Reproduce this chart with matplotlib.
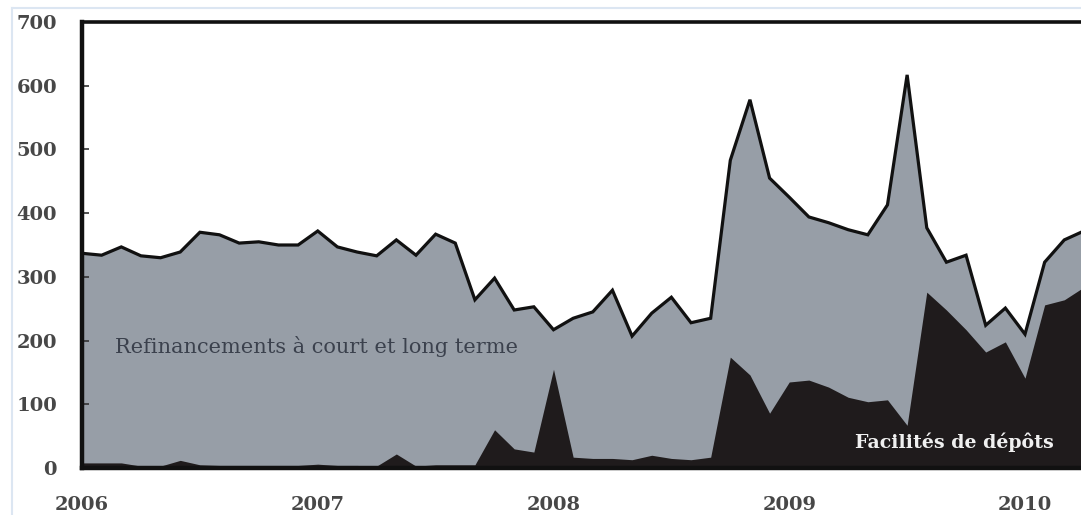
#!/usr/bin/env python
"""Refinancements vs facilites de depots, 2006-2010 (monthly, bn EUR)."""

import matplotlib

matplotlib.use("Agg")
import matplotlib.pyplot as plt  # noqa: E402
from matplotlib.lines import Line2D  # noqa: E402
import numpy as np  # noqa: E402

# monthly values, Jan 2006 .. Apr 2010
years = [2006, 2007, 2008, 2009, 2010]
refinancements = [
    337, 334, 347, 333, 330, 339, 370, 366, 353, 355, 350, 350,
    372, 347, 339, 333, 358, 334, 367, 353, 264, 298, 248, 253,
    217, 235, 245, 279, 207, 243, 268, 228, 235, 483, 578, 455,
    425, 394, 385, 374, 366, 413, 617, 377, 323, 334, 224, 251,
    210, 323, 358, 372,
]
depots = [
    8, 8, 8, 3, 3, 12, 5, 4, 4, 4, 4, 4,
    6, 4, 4, 3, 22, 3, 5, 5, 5, 60, 30, 25,
    155, 17, 15, 15, 13, 20, 15, 13, 17, 174, 146, 86,
    135, 138, 127, 111, 104, 107, 67, 276, 248, 217, 182, 198,
    141, 256, 264, 284,
]
yticks = [0, 100, 200, 300, 400, 500, 600, 700]

t = years[0] + np.arange(len(refinancements)) / 12.0

W, H = 1081, 515
fig = plt.figure(figsize=(W / 100, H / 100), dpi=100)
ax = fig.add_axes([82 / W, (H - 468) / H, 1 - 82 / W, (468 - 22) / H])

ax.fill_between(t, 0, refinancements, color="#979ea7", lw=0, zorder=1)
ax.plot(t, refinancements, color="#111111", lw=2.3, zorder=3, solid_joinstyle="miter")
ax.fill_between(t, 0, depots, color="#1f1b1c", lw=0, zorder=2)

ax.set_xlim(2006, 2006 + (W - 82) / 235.75)
ax.set_ylim(0, 700)

serif = ["DejaVu Serif"]
ax.set_yticks(yticks)
ax.set_yticklabels([str(v) for v in yticks], family=serif, fontsize=14,
                   fontweight="bold", color="#474747")
ax.set_xticks(years)
ax.set_xticklabels([str(y) for y in years], family=serif, fontsize=14,
                   fontweight="bold", color="#474747")
ax.tick_params(axis="y", direction="in", length=5, width=1.2, pad=18, color="#333333")
ax.tick_params(axis="x", length=0, pad=20)

for side in ("left", "bottom"):
    ax.spines[side].set_linewidth(3.2)
    ax.spines[side].set_color("#111111")
ax.spines["top"].set_linewidth(2.6)
ax.spines["top"].set_color("#111111")
ax.spines["right"].set_visible(False)

ax.text(2006.14, 190, "Refinancements à court et long terme", family=serif,
        fontsize=15, color="#3b414d", va="center", ha="left", zorder=4)
ax.text(2009.28, 40, "Facilités de dépôts", family=serif, fontsize=13.7,
        fontweight="bold", color="#f0f0f0", va="center", ha="left", zorder=4)

# faint frame of the original scan
fig.add_artist(Line2D([12 / W, 1], [1 - 8 / H, 1 - 8 / H], color="#dce6f2", lw=1.5))
fig.add_artist(Line2D([12 / W, 12 / W], [0, 1 - 8 / H], color="#dce6f2", lw=1.5))

fig.savefig("out.png", dpi=100, facecolor="white")
